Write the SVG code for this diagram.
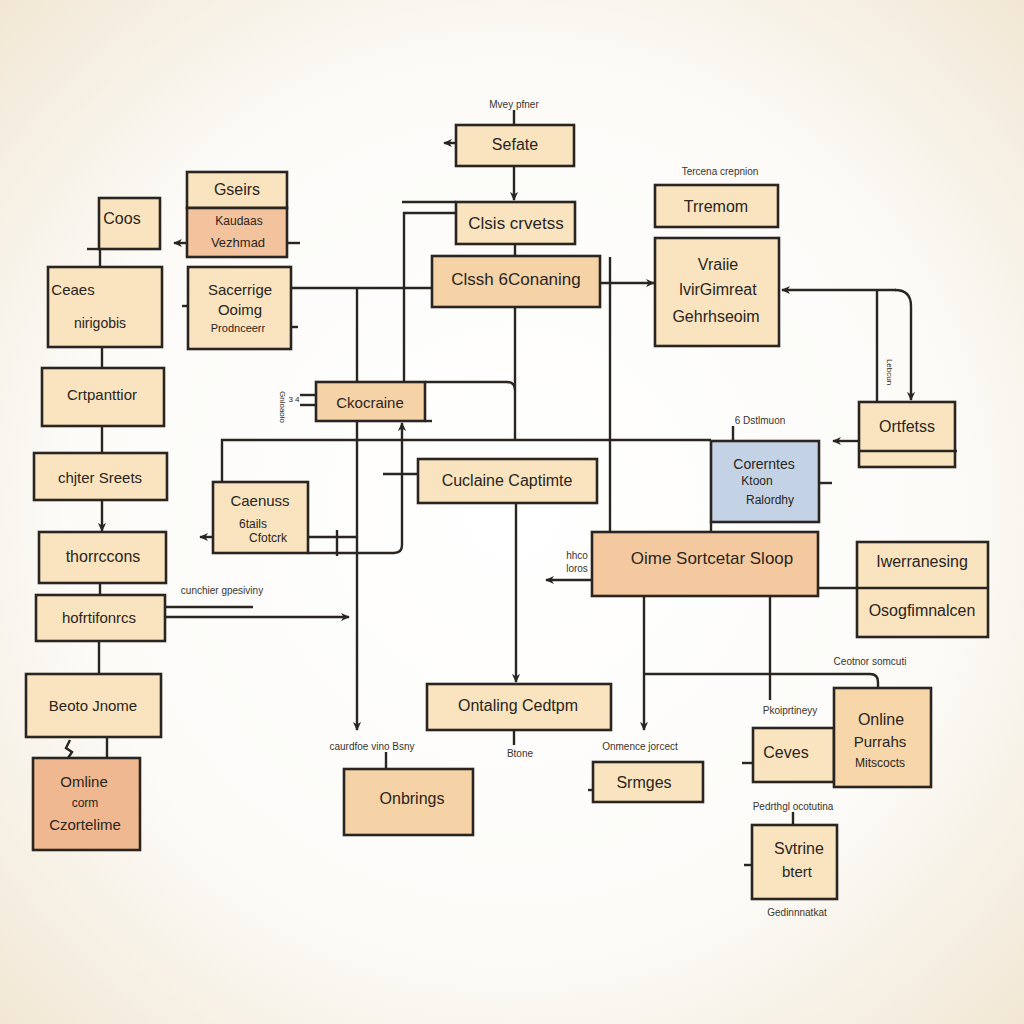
<svg xmlns="http://www.w3.org/2000/svg" width="1024" height="1024" viewBox="0 0 1024 1024">
<defs>
<radialGradient id="bg" cx="50%" cy="50%" r="72%">
<stop offset="0%" stop-color="#ffffff"/>
<stop offset="60%" stop-color="#fcfbf8"/>
<stop offset="100%" stop-color="#f1e6d2"/>
</radialGradient>
<marker id="ah" viewBox="0 0 10 10" refX="9" refY="5" markerWidth="9" markerHeight="9" orient="auto-start-reverse" markerUnits="userSpaceOnUse">
<path d="M0,0.5 L10,5 L0,9.5 L3,5 Z" fill="#2a2520"/>
</marker>
</defs>
<style>
.box{stroke:#2a2520;stroke-width:2.6;fill:#f9e4bf}
.peach{fill:#f6d2a7}
.salmon{fill:#efb890}
.blue{fill:#c3d2e5}
.c{fill:none;stroke:#2a2520;stroke-width:2.4}
.t{font-family:"Liberation Sans","DejaVu Sans",sans-serif;fill:#2a2520;text-anchor:middle}
.s{font-size:10px;fill:#3a342e}
</style>
<rect width="1024" height="1024" fill="url(#bg)"/>

<g id="connectors">
<path class="c" d="M514,110 V125"/>
<path class="c" d="M514,166 V200" marker-end="url(#ah)"/>
<path class="c" d="M457,143 H444" marker-end="url(#ah)"/>
<path class="c" d="M457,132 V165"/>
<path class="c" d="M456,202 H402"/>
<path class="c" d="M456,213 H404 V382"/>
<path class="c" d="M515,244 V256"/>
<path class="c" d="M291,288 H432"/>
<path class="c" d="M357,288 V382"/>
<path class="c" d="M357,421 V730" marker-end="url(#ah)"/>
<path class="c" d="M515,307 V440"/>
<path class="c" d="M425,382 H507 Q515,382 515,390"/>
<path class="c" d="M610,257 V532"/>
<path class="c" d="M600,283 H654" marker-end="url(#ah)"/>
<path class="c" d="M222,482 V440 H711"/>
<path class="c" d="M711,522 V532"/>
<path class="c" d="M733,426 V441"/>
<path class="c" d="M819,483 H832"/>
<path class="c" d="M859,441 H833" marker-end="url(#ah)"/>
<path class="c" d="M896,290 H782" marker-end="url(#ah)"/>
<path class="c" d="M895,290 Q911,290 911,306 V400" marker-end="url(#ah)"/>
<path class="c" d="M877,290 V402"/>
<path class="c" d="M308,537 H357"/>
<path class="c" d="M337,530 V556"/>
<path class="c" d="M308,553 H394 Q402,553 402,545 V423" marker-end="url(#ah)"/>
<path class="c" d="M213,537 H200" marker-end="url(#ah)"/>
<path class="c" d="M418,474 H383"/>
<path class="c" d="M516,503 V682" marker-end="url(#ah)"/>
<path class="c" d="M514,730 V745"/>
<path class="c" d="M165,617 H349" marker-end="url(#ah)"/>
<path class="c" d="M165,607 H253"/>
<path class="c" d="M100,249 V267"/>
<path class="c" d="M87,249 H100"/>
<path class="c" d="M102,347 V368"/>
<path class="c" d="M102,426 V453"/>
<path class="c" d="M102,500 V531" marker-end="url(#ah)"/>
<path class="c" d="M100,583 V595"/>
<path class="c" d="M99,641 V674"/>
<path class="c" d="M107,737 V758"/>
<path class="c" d="M70,740 L66,748 L72,752 L68,758"/>
<path class="c" d="M187,243 H174" marker-end="url(#ah)"/>
<path class="c" d="M287,243 H300"/>
<path class="c" d="M182,306 H196"/>
<path class="c" d="M291,327 H298"/>
<path class="c" d="M592,580 H546" marker-end="url(#ah)"/>
<path class="c" d="M818,588 H857"/>
<path class="c" d="M644,596 V730" marker-end="url(#ah)"/>
<path class="c" d="M644,674 H870 Q878,674 878,682 V688"/>
<path class="c" d="M770,596 V700"/>
<path class="c" d="M386,752 V769"/>
<path class="c" d="M588,790 H600"/>
<path class="c" d="M753,763 H742"/>
<path class="c" d="M793,812 V825"/>
<path class="c" d="M744,865 H760"/>
<path class="c" d="M300,395 H316"/>
<path class="c" d="M300,405 H316"/>
<path class="c" d="M425,421 H432"/>
</g>

<g id="n-sefate"><rect class="box" x="456" y="125" width="118" height="41"/><text class="t" x="515" y="150" font-size="16">Sefate</text><text class="t s" x="514" y="108">Mvey pfner</text></g>
<g id="n-clsis"><rect class="box" x="456" y="202" width="119" height="42"/><text class="t" x="516" y="229" font-size="17">Clsis crvetss</text></g>
<g id="n-clssh"><rect class="box peach" x="432" y="256" width="168" height="51"/><text class="t" x="516" y="285" font-size="17">Clssh 6Conaning</text></g>
<g id="n-trremom"><rect class="box" x="655" y="185" width="123" height="42"/><text class="t" x="716" y="212" font-size="16">Trremom</text><text class="t s" x="720" y="175">Tercena crepnion</text></g>
<g id="n-vraiie"><rect class="box" x="655" y="238" width="124" height="108"/><text class="t" x="718" y="270" font-size="16">Vraiie</text><text class="t" x="718" y="295" font-size="16">lvirGimreat</text><text class="t" x="716" y="322" font-size="16">Gehrhseoim</text></g>
<g id="n-ortfetss"><rect class="box" x="859" y="402" width="96" height="65"/><path class="c" d="M859,451 H957"/><text class="t" x="907" y="432" font-size="16">Ortfetss</text><text class="t" x="887" y="372" font-size="8" transform="rotate(90 887 372)">Lebcun</text></g>
<g id="n-blue"><rect class="box blue" x="711" y="441" width="108" height="81"/><text class="t" x="764" y="469" font-size="14">Corerntes</text><text class="t" x="757" y="485" font-size="12">Ktoon</text><text class="t" x="770" y="504" font-size="12">Ralordhy</text><text class="t s" x="760" y="424">6 Dstlmuon</text></g>
<g id="n-oime"><rect class="box" x="592" y="532" width="226" height="64" style="fill:#f5c9a0"/><text class="t" x="712" y="564" font-size="17">Oime Sortcetar Sloop</text><text class="t s" x="577" y="559">hhco</text><text class="t s" x="577" y="572">loros</text></g>
<g id="n-iwer"><rect class="box" x="857" y="542" width="131" height="95"/><path class="c" d="M857,588 H988"/><text class="t" x="922" y="567" font-size="16">Iwerranesing</text><text class="t" x="922" y="616" font-size="16">Osogfimnalcen</text></g>
<g id="n-coos"><rect class="box" x="99" y="198" width="61" height="51"/><text class="t" x="122" y="224" font-size="16">Coos</text></g>
<g id="n-gseirs"><rect class="box" x="187" y="172" width="100" height="36"/><text class="t" x="237" y="195" font-size="16">Gseirs</text></g>
<g id="n-kaudaas"><rect class="box" x="187" y="208" width="100" height="49" style="fill:#f2c39c"/><text class="t" x="239" y="225" font-size="12">Kaudaas</text><text class="t" x="238" y="247" font-size="13">Vezhmad</text></g>
<g id="n-ceaes"><rect class="box" x="48" y="267" width="114" height="80"/><text class="t" x="73" y="295" font-size="15">Ceaes</text><text class="t" x="100" y="328" font-size="14">nirigobis</text></g>
<g id="n-sacerrige"><rect class="box" x="188" y="267" width="103" height="82"/><text class="t" x="240" y="295" font-size="15">Sacerrige</text><text class="t" x="240" y="315" font-size="15">Ooimg</text><text class="t" x="238" y="332" font-size="11">Prodnceerr</text></g>
<g id="n-crtpan"><rect class="box" x="42" y="368" width="122" height="58"/><text class="t" x="102" y="400" font-size="15">Crtpanttior</text></g>
<g id="n-chjter"><rect class="box" x="34" y="453" width="133" height="47"/><text class="t" x="100" y="483" font-size="15">chjter Sreets</text></g>
<g id="n-thorr"><rect class="box" x="39" y="532" width="127" height="51"/><text class="t" x="103" y="562" font-size="16">thorrccons</text></g>
<g id="n-hofrt"><rect class="box" x="36" y="595" width="129" height="46"/><text class="t" x="99" y="623" font-size="15">hofrtifonrcs</text><text class="t s" x="222" y="594">cunchier gpesiviny</text></g>
<g id="n-beoto"><rect class="box" x="26" y="674" width="135" height="63"/><text class="t" x="93" y="711" font-size="15">Beoto Jnome</text></g>
<g id="n-omline"><rect class="box salmon" x="33" y="758" width="107" height="92"/><text class="t" x="84" y="787" font-size="15">Omline</text><text class="t" x="85" y="807" font-size="12">corm</text><text class="t" x="85" y="830" font-size="15">Czortelime</text></g>
<g id="n-ckocraine"><rect class="box peach" x="316" y="382" width="109" height="39"/><text class="t" x="370" y="408" font-size="15">Ckocraine</text><text class="t" x="280" y="407" font-size="8" transform="rotate(90 280 407)">Gnloaoio</text><text class="t" x="294" y="402" font-size="8">3 4</text></g>
<g id="n-caenuss"><rect class="box" x="213" y="482" width="95" height="71"/><text class="t" x="260" y="506" font-size="15">Caenuss</text><text class="t" x="253" y="528" font-size="12">6tails</text><text class="t" x="268" y="542" font-size="12">Cfotcrk</text></g>
<g id="n-cuclaine"><rect class="box" x="418" y="459" width="179" height="44"/><text class="t" x="507" y="486" font-size="16">Cuclaine Captimte</text></g>
<g id="n-ontaling"><rect class="box" x="427" y="684" width="184" height="46"/><text class="t" x="518" y="711" font-size="16">Ontaling Cedtpm</text><text class="t s" x="520" y="757">Btone</text></g>
<g id="n-onbrings"><rect class="box peach" x="344" y="769" width="129" height="66"/><text class="t" x="412" y="804" font-size="16">Onbrings</text><text class="t s" x="372" y="750">caurdfoe vino Bsny</text></g>
<g id="n-srmges"><rect class="box" x="593" y="762" width="110" height="40"/><text class="t" x="644" y="788" font-size="16">Srmges</text><text class="t s" x="640" y="750">Onmence jorcect</text></g>
<g id="n-ceves"><rect class="box" x="753" y="728" width="81" height="54"/><text class="t" x="786" y="758" font-size="16">Ceves</text><text class="t s" x="790" y="714">Pkoiprtineyy</text></g>
<g id="n-online"><rect class="box" x="834" y="688" width="97" height="99" style="fill:#f7d6aa"/><text class="t" x="881" y="725" font-size="16">Online</text><text class="t" x="880" y="747" font-size="15">Purrahs</text><text class="t" x="880" y="767" font-size="12">Mitscocts</text><text class="t s" x="870" y="665">Ceotnor somcuti</text></g>
<g id="n-svtrine"><rect class="box" x="752" y="825" width="85" height="74"/><text class="t" x="799" y="854" font-size="16">Svtrine</text><text class="t" x="797" y="877" font-size="15">btert</text><text class="t s" x="793" y="810">Pedrthgl ocotutina</text><text class="t s" x="797" y="916">Gedinnnatkat</text></g>
</svg>
